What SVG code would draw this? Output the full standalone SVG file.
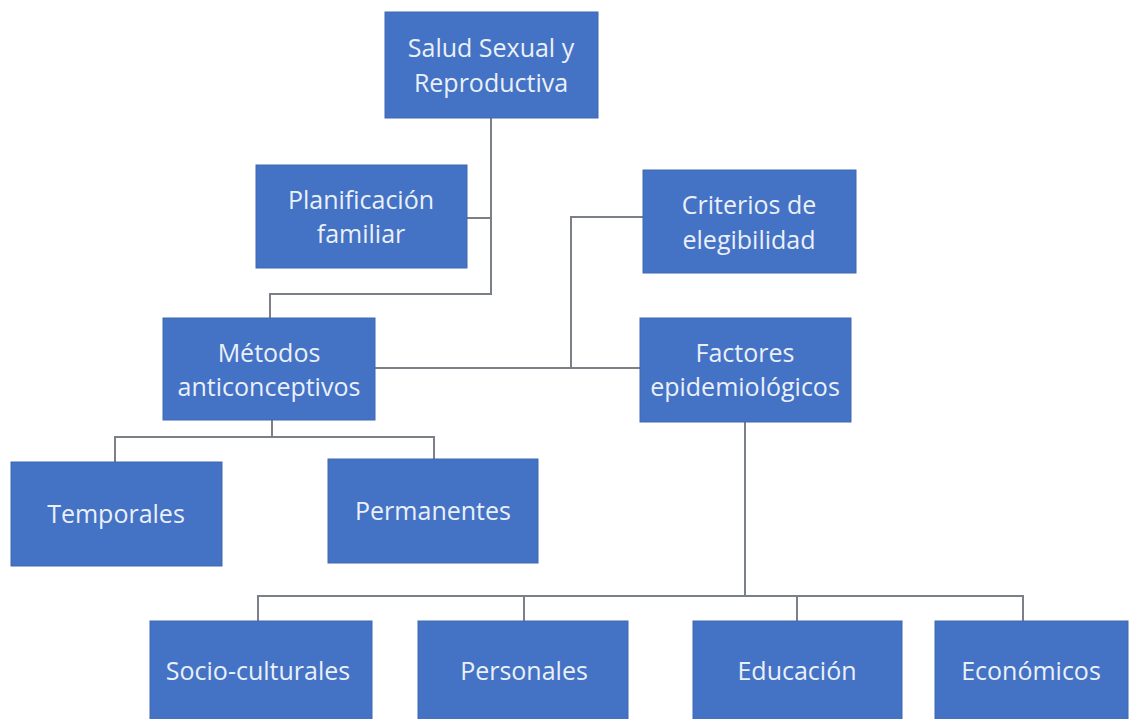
<svg xmlns="http://www.w3.org/2000/svg" width="1135" height="719" viewBox="0 0 1135 719">
<style>
.box{fill:#4472C4;stroke:#3F68B2;stroke-width:1}
.t{font-family:"Open Sans","Noto Sans",sans-serif;font-size:25px;fill:#EAF0FA;text-anchor:middle;dominant-baseline:central}
.c{fill:none;stroke:#7A7F88;stroke-width:2}
</style>
<rect width="1135" height="719" fill="#FFFFFF"/>
<g id="connectors">
<path class="c" d="M491 118 V294 H270 V318"/>
<path class="c" d="M467 218 H491"/>
<path class="c" d="M643 217 H571 V368"/>
<path class="c" d="M375 368 H640"/>
<path class="c" d="M272 420 V437 M115 462 V437 H434 V459"/>
<path class="c" d="M745 422 V596 M258 621 V596 H1023 V621 M524 596 V621 M797 596 V621"/>
</g>
<g id="salud"><rect class="box" x="385" y="12" width="213" height="106"/><text class="t" x="491" y="47">Salud Sexual y</text><text class="t" x="491" y="82">Reproductiva</text></g>
<g id="planificacion"><rect class="box" x="256" y="165" width="211" height="103"/><text class="t" x="361" y="199">Planificación</text><text class="t" x="361" y="233">familiar</text></g>
<g id="criterios"><rect class="box" x="643" y="170" width="213" height="103"/><text class="t" x="749" y="204">Criterios de</text><text class="t" x="749" y="239">elegibilidad</text></g>
<g id="metodos"><rect class="box" x="163" y="318" width="212" height="102"/><text class="t" x="269" y="352">Métodos</text><text class="t" x="269" y="386">anticonceptivos</text></g>
<g id="factores"><rect class="box" x="640" y="318" width="211" height="104"/><text class="t" x="745" y="352">Factores</text><text class="t" x="745" y="386">epidemiológicos</text></g>
<g id="temporales"><rect class="box" x="11" y="462" width="211" height="104"/><text class="t" x="116" y="513">Temporales</text></g>
<g id="permanentes"><rect class="box" x="328" y="459" width="210" height="104"/><text class="t" x="433" y="510">Permanentes</text></g>
<g id="socioculturales"><rect class="box" x="150" y="621" width="222" height="100"/><text class="t" x="258" y="670">Socio-culturales</text></g>
<g id="personales"><rect class="box" x="418" y="621" width="210" height="100"/><text class="t" x="524" y="670">Personales</text></g>
<g id="educacion"><rect class="box" x="693" y="621" width="209" height="100"/><text class="t" x="797" y="670">Educación</text></g>
<g id="economicos"><rect class="box" x="935" y="621" width="193" height="100"/><text class="t" x="1031" y="670">Económicos</text></g>
</svg>
